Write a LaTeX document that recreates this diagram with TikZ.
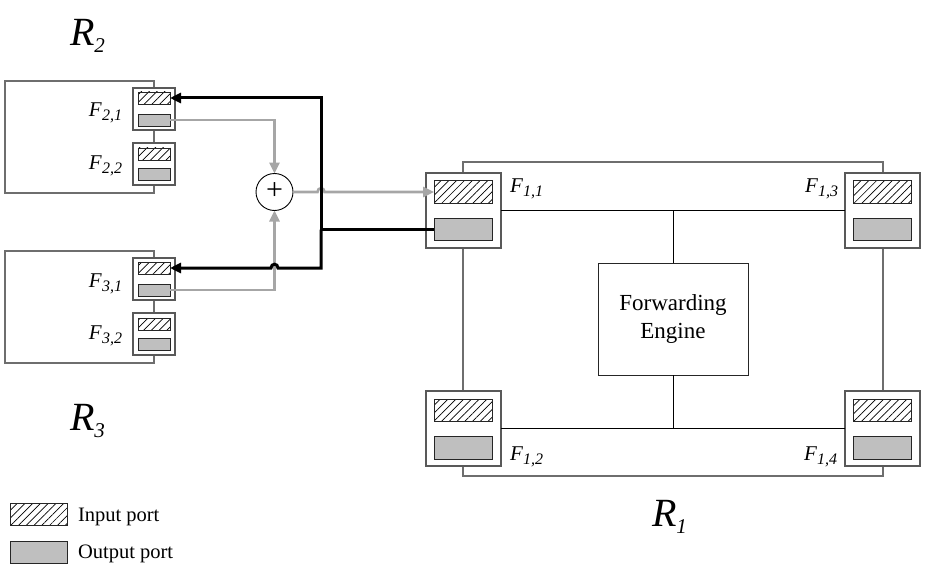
\documentclass[tikz,border=0pt]{standalone}
\usepackage{fontspec}
\setmainfont{Liberation Serif}
\usetikzlibrary{arrows.meta,patterns.meta}
\definecolor{boxgray}{HTML}{6E6E6E}
\definecolor{cardgray}{HTML}{595959}
\definecolor{portfill}{HTML}{BFBFBF}
\definecolor{wiregray}{HTML}{A6A6A6}
\newcommand\Fl[1]{\textit{F}\raisebox{-4pt}{\fontsize{16}{16}\selectfont\textit{#1}}}
\newcommand\Rl[1]{\textit{R}\raisebox{-7pt}{\fontsize{21}{21}\selectfont\textit{#1}}}
\begin{document}
\begin{tikzpicture}[x=1pt,y=-1pt,
  every node/.style={inner sep=0pt,outer sep=0pt},
  router/.style={draw=boxgray,line width=1.3pt},
  smallcard/.style={draw=cardgray,fill=white,line width=1.3pt,minimum width=42pt,minimum height=42pt},
  bigcard/.style={draw=cardgray,fill=white,line width=1.3pt,minimum width=75pt,minimum height=75pt},
  hatch/.style={draw=black!85,line width=0.9pt,pattern={Lines[angle=45,distance=5.5pt,line width=0.7pt]}},
  outfill/.style={draw=black!85,line width=0.9pt,fill=portfill},
  smallport/.style={minimum width=32pt,minimum height=12pt},
  bigport/.style={minimum width=58pt,minimum height=22.5pt},
  flab/.style={font=\fontsize{21}{21}\selectfont},
  rlab/.style={font=\fontsize{40}{40}\selectfont},
  leglab/.style={font=\fontsize{20.5}{20.5}\selectfont},
  graywire/.style={draw=wiregray,line width=2.6pt},
  blackwire/.style={draw=black,line width=3pt},
  gtip/.style={-{Triangle[length=11pt,width=10pt,fill=wiregray]}},
  btip/.style={-{Triangle[length=11pt,width=10pt]}},
  inner/.style={draw=black,line width=0.9pt}
]
\useasboundingbox (0,0) rectangle (926,575);

% ---------- routers R2, R3 ----------
\node[router,minimum width=149pt,minimum height=112pt] (R2box) at (79.5,137) {};
\node[router,minimum width=149pt,minimum height=112pt] (R3box) at (79.5,307) {};
% ---------- router R1 ----------
\node[router,minimum width=420pt,minimum height=314pt] (R1box) at (673,319) {};

% ---------- cards of R2 ----------
\node[smallcard] (c21) at (154,109) {};
\node[hatch,smallport] (p21i) at (154,98) {};
\node[outfill,smallport] (p21o) at (154,120) {};
\node[smallcard] (c22) at (154,164) {};
\node[hatch,smallport] (p22i) at (154,154) {};
\node[outfill,smallport] (p22o) at (154,174) {};
% ---------- cards of R3 ----------
\node[smallcard] (c31) at (154,279) {};
\node[hatch,smallport] (p31i) at (154,268) {};
\node[outfill,smallport] (p31o) at (154,290) {};
\node[smallcard] (c32) at (154,334) {};
\node[hatch,smallport] (p32i) at (154,324) {};
\node[outfill,smallport] (p32o) at (154,344) {};

% ---------- cards of R1 ----------
\node[bigcard] (c11) at (463.5,210.5) {};
\node[hatch,bigport] (p11i) at (463,192) {};
\node[outfill,bigport] (p11o) at (463,229.5) {};
\node[bigcard] (c13) at (882.5,210.5) {};
\node[hatch,bigport] (p13i) at (882,192) {};
\node[outfill,bigport] (p13o) at (882,229.5) {};
\node[bigcard] (c12) at (463.5,428.5) {};
\node[hatch,bigport] (p12i) at (463,410.5) {};
\node[outfill,bigport] (p12o) at (463,448) {};
\node[bigcard] (c14) at (882.5,428.5) {};
\node[hatch,bigport] (p14i) at (882,410.5) {};
\node[outfill,bigport] (p14o) at (882,448) {};

% ---------- forwarding engine ----------
\node[draw=black!85,line width=0.9pt,minimum width=150pt,minimum height=112pt,
      align=center,font=\fontsize{23}{28}\selectfont] (fe) at (673,319) {Forwarding\\Engine};
\draw[inner] (c11.east) -- (c13.west);
\draw[inner] (c12.east) -- (c14.west);
\draw[inner] (fe.north) -- (fe.north |- c11.east);
\draw[inner] (fe.south) -- (fe.south |- c12.east);

% ---------- adder ----------
\node[draw=black,line width=0.9pt,circle,minimum size=37pt] (sum) at (274.5,192) {};
\node[font=\fontsize{30}{30}\selectfont] (plus) at (274.5,191) {+};

% ---------- gray wires ----------
\draw[graywire,gtip] (p21o.east) -- (sum.north |- p21o.east) -- (sum.north);
\draw[graywire,gtip] (p31o.east) -- (sum.south |- p31o.east) -- (sum.south);
\draw[graywire,gtip] (sum.east) -- (317.5,192) .. controls (317.5,187) and (324.5,187) .. (324.5,192) -- (p11i.west);

% ---------- black wires ----------
\coordinate (jt) at (321,98);
\coordinate (jb) at (321,268);
\draw[blackwire,btip,line join=miter] (p11o.west) -- (p11o.west -| jt) -- (jt) -- (p21i.east);
\draw[blackwire,btip,line join=miter] (p11o.west -| jt) -- (jb) -- (278,268) .. controls (278,263) and (271,263) .. (271,268) -- (p31i.east);

% ---------- labels ----------
\node[flab,anchor=base east] (l21) at (122,117) {\Fl{2,1}};
\node[flab,anchor=base east] (l22) at (122,169) {\Fl{2,2}};
\node[flab,anchor=base east] (l31) at (122,287) {\Fl{3,1}};
\node[flab,anchor=base east] (l32) at (122,339) {\Fl{3,2}};
\node[flab,anchor=base west] (l11) at (510,192) {\Fl{1,1}};
\node[flab,anchor=base east] (l13) at (838,192) {\Fl{1,3}};
\node[flab,anchor=base west] (l12) at (510,460) {\Fl{1,2}};
\node[flab,anchor=base east] (l14) at (837,460) {\Fl{1,4}};

\node[rlab,anchor=base west] (r2) at (70,46) {\Rl{2}};
\node[rlab,anchor=base west] (r3) at (70,430) {\Rl{3}};
\node[rlab,anchor=base west] (r1) at (652,526) {\Rl{1}};

% ---------- legend ----------
\node[hatch,minimum width=57pt,minimum height=22pt] (legin) at (38.5,514) {};
\node[outfill,minimum width=57pt,minimum height=22pt] (legout) at (38.5,552) {};
\node[leglab,anchor=base west] (legint) at (78,521) {Input port};
\node[leglab,anchor=base west] (legoutt) at (78,558) {Output port};
\end{tikzpicture}
\end{document}
